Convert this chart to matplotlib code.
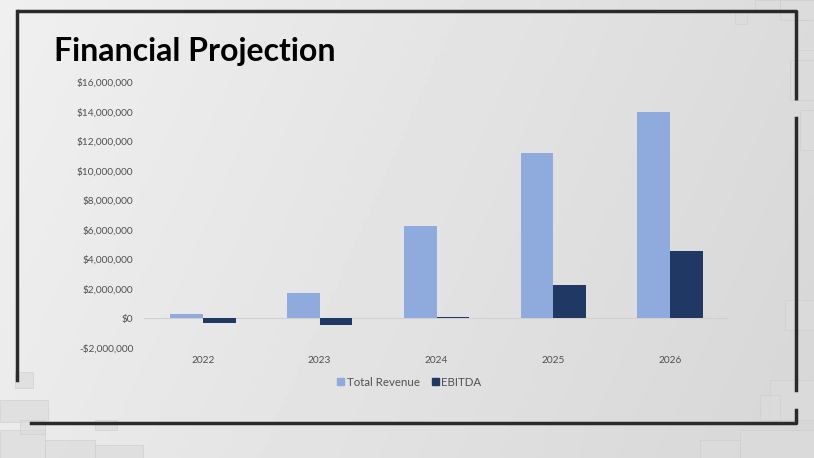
import numpy as np
import matplotlib.pyplot as plt
from matplotlib.patches import Rectangle
from matplotlib.ticker import FuncFormatter

years = ['2022', '2023', '2024', '2025', '2026']
total_revenue = [300000, 1720000, 6240000, 11200000, 13990000]
ebitda = [-300000, -430000, 80000, 2240000, 4560000]

W, H = 814, 458
fig = plt.figure(figsize=(W / 100, H / 100), dpi=100)

# background: soft gray gradient like the slide
bg = fig.add_axes([0, 0, 1, 1])
gx = np.linspace(0, 1, 200)
gy = np.linspace(0, 1, 120)
X, Y = np.meshgrid(gx, gy)
shade = 0.94 - 0.08 * X - 0.02 * Y
bg.imshow(shade, cmap='gray', vmin=0, vmax=1, extent=[0, W, H, 0], aspect='auto')
bg.set_xlim(0, W)
bg.set_ylim(H, 0)
bg.axis('off')

# decorative tiles around the edges
tiles = [(0, 430, 45, 28), (45, 440, 50, 18), (95, 445, 48, 13), (15, 372, 18, 16),
         (0, 400, 48, 22), (20, 420, 25, 14), (95, 420, 22, 10),
         (755, 0, 25, 12), (780, 0, 34, 20), (795, 20, 19, 30), (735, 12, 12, 12),
         (790, 60, 24, 40), (800, 110, 14, 40), (770, 380, 44, 40), (740, 430, 74, 28),
         (760, 395, 20, 25), (785, 300, 29, 30), (700, 440, 40, 18)]
for x, y, w, h in tiles:
    bg.add_patch(Rectangle((x, y), w, h, facecolor='#dcdcdc', edgecolor='#cdcdcd',
                           lw=0.6, alpha=0.7))

# dark frame
frame_color = '#2a2a2a'
bg.plot([17, 796, 796], [11, 11, 100], color=frame_color, lw=2.5, solid_capstyle='butt')
bg.plot([796, 796], [118, 390], color=frame_color, lw=2.5)
bg.plot([17, 17], [11, 380], color=frame_color, lw=2.5)
bg.plot([31, 796, 796], [423, 423, 410], color=frame_color, lw=2.5)

fig.text(54 / W, 1 - 52 / H, 'Financial Projection', fontsize=23, fontweight='bold',
         family='Lato', color='black', va='center', ha='left')

# chart
ax = fig.add_axes([0.1775, 0.2402, 0.7175, 0.5808])
ax.patch.set_alpha(0)
x = np.arange(len(years))
bw = 0.28
ax.bar(x - bw / 2, total_revenue, bw, color='#8FAADC', label='Total Revenue', zorder=3)
ax.bar(x + bw / 2, ebitda, bw, color='#1F3864', label='EBITDA', zorder=3)
ax.axhline(0, color='#d0d0d0', lw=0.8, zorder=2)

ax.set_xlim(-0.5, len(years) - 0.5)
ax.set_ylim(-2000000, 16000000)
ax.set_yticks(np.arange(-2000000, 16000001, 2000000))


def money(v, pos):
    if v < 0:
        return '-${:,.0f}'.format(-v)
    return '${:,.0f}'.format(v)


ax.yaxis.set_major_formatter(FuncFormatter(money))
ax.set_xticks(x)
ax.set_xticklabels(years)
for s in ax.spines.values():
    s.set_visible(False)
ax.tick_params(axis='both', length=0, labelsize=7.3, labelcolor='#505050')
ax.tick_params(axis='y', pad=8)
ax.tick_params(axis='x', pad=6)
for lab in ax.get_xticklabels() + ax.get_yticklabels():
    lab.set_family('Lato')

handles = [Rectangle((0, 0), 1, 1, color='#8FAADC'), Rectangle((0, 0), 1, 1, color='#1F3864')]
leg = fig.legend(handles, ['Total Revenue', 'EBITDA'], loc='center', bbox_to_anchor=(0.503, 1 - 382 / H),
                 ncol=2, frameon=False, handlelength=0.6, handleheight=0.6, handletextpad=0.25,
                 columnspacing=1.0, prop={'family': 'Lato', 'size': 8.3})
for t in leg.get_texts():
    t.set_color('#505050')

fig.savefig('out.png', dpi=100)
